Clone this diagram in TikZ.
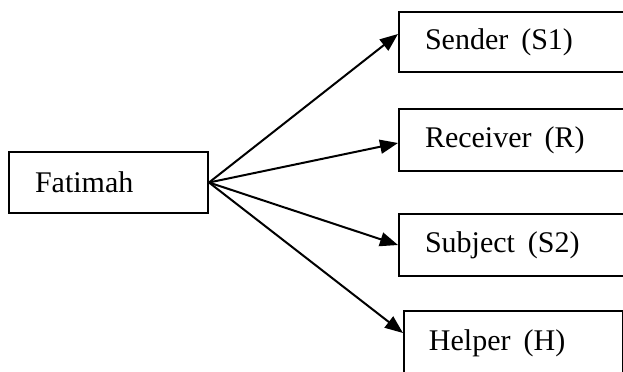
\documentclass[tikz,border=0pt]{standalone}
\usepackage{fontspec}
\setmainfont{Liberation Serif}
\usetikzlibrary{arrows.meta}
\tikzset{actant/.style={draw, line width=1pt, anchor=north west, align=left, inner xsep=13pt, minimum height=31pt, font=\fontsize{15}{18}\selectfont}}

\begin{document}
\begin{tikzpicture}[x=0.5pt, y=-0.5pt, line width=1pt, >={Triangle[length=9pt, width=7pt]}]
\useasboundingbox (0,0) rectangle (623,371);
\clip (0,0) rectangle (623,371);
\node[actant, text width=73.5pt, minimum height=30.5pt] (fatimah) at (8,151) {Fatimah};
\node[actant, text width=90pt, minimum height=30pt] (sender) at (398,11) {Sender\hspace{6.5pt}(S1)};
\node[actant, text width=90pt] (receiver) at (398,108) {Receiver\hspace{6.5pt}(R)};
\node[actant, text width=90pt] (subject) at (398,213) {Subject\hspace{6.5pt}(S2)};
\node[actant, text width=84.5pt, inner xsep=12.5pt, minimum height=32pt] (helper) at (403,310) {Helper\hspace{6.5pt}(H)};
\draw[->] (fatimah.east) -- ([yshift=4pt]sender.west);
\draw[->] (fatimah.east) -- ([yshift=-1.5pt]receiver.west);
\draw[->] (fatimah.east) -- (subject.west);
\draw[->] (fatimah.east) -- ([yshift=-11.5pt]helper.north west);
\end{tikzpicture}
\end{document}
